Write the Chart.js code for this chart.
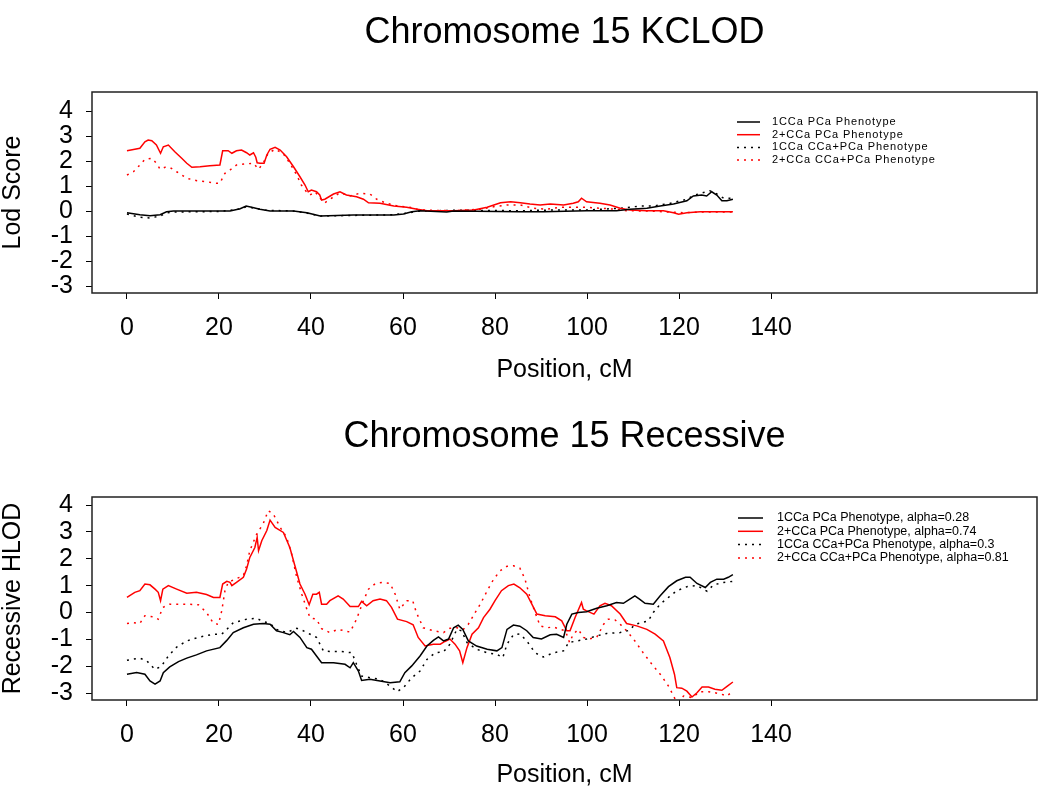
<!DOCTYPE html>
<html>
<head>
<meta charset="utf-8">
<title>Chromosome 15</title>
<script src="https://cdn.jsdelivr.net/npm/chart.js@4.4.1/dist/chart.umd.min.js"></script>
<style>
    html, body { margin: 0; padding: 0; background: #fff; }
    canvas { display: block; }
</style>
</head>
<body>
<canvas id="kclodChart" width="1050" height="400"></canvas>
<canvas id="recessiveChart" width="1050" height="397"></canvas>
<script>
/**
 * Data (positions in cM, scores)
 * ======================================================================== */
const xTicks = [0, 20, 40, 60, 80, 100, 120, 140];
const yTicks = [-3, -2, -1, 0, 1, 2, 3, 4];

// Chromosome 15 KCLOD
const kclodLabels = [
    '1CCa PCa Phenotype',
    '2+CCa PCa Phenotype',
    '1CCa CCa+PCa Phenotype',
    '2+CCa CCa+PCa Phenotype'
];

const kclod1Pos = [0, 2.8, 5, 7.2, 8.6, 10.1, 17.3, 22.4, 24.6, 25.9, 27.1, 28.9, 31.1, 36.2, 39.1, 42, 49.2, 58, 60.1, 61.9, 63.7, 69.5, 71, 85.4, 90.5, 99.9, 106.4, 109.3, 113, 115.9, 118.8, 121.7, 123.1, 124.9, 126, 127.1, 128.2, 129.3, 130.4, 131.7];
const kclod1Lod = [-0.07, -0.15, -0.19, -0.15, -0.03, 0, 0, 0, 0.09, 0.2, 0.15, 0.07, 0, 0, -0.07, -0.2, -0.16, -0.16, -0.12, -0.03, 0.01, -0.04, 0, -0.03, -0.03, 0.01, 0.01, 0.07, 0.11, 0.2, 0.28, 0.41, 0.6, 0.64, 0.6, 0.77, 0.64, 0.41, 0.41, 0.47];

const kclod2Pos = [0, 1.7, 2.8, 3.9, 4.6, 5.4, 6.4, 7.3, 7.9, 9, 10.4, 11.9, 13, 14.1, 15.9, 18, 20.2, 20.8, 22, 22.8, 23.8, 24.9, 26, 26.7, 27.5, 28, 28.3, 28.9, 29.8, 30.4, 31.1, 32.2, 33.3, 34.7, 36.2, 37.6, 38.7, 39.4, 40.1, 41.2, 41.9, 42.3, 43, 44.9, 46.3, 47.7, 49.9, 51.4, 52.5, 55, 58, 60.8, 63.1, 65.2, 71, 75.4, 78.3, 81.2, 83.4, 85.5, 87.6, 89.8, 92, 94.9, 97, 98.1, 98.8, 99.9, 102.8, 105, 107.2, 109.3, 113, 116.6, 118.8, 119.9, 121.7, 124.6, 131.7];
const kclod2Lod = [2.41, 2.47, 2.51, 2.77, 2.84, 2.81, 2.64, 2.31, 2.57, 2.64, 2.37, 2.11, 1.91, 1.75, 1.77, 1.81, 1.84, 2.41, 2.41, 2.31, 2.41, 2.44, 2.33, 2.24, 2.33, 2.15, 1.93, 1.91, 1.91, 2.24, 2.47, 2.55, 2.44, 2.17, 1.77, 1.37, 1.04, 0.77, 0.84, 0.77, 0.64, 0.44, 0.47, 0.68, 0.77, 0.64, 0.57, 0.47, 0.33, 0.31, 0.2, 0.15, 0.07, 0.01, 0.01, 0.04, 0.15, 0.33, 0.37, 0.33, 0.28, 0.24, 0.28, 0.24, 0.31, 0.37, 0.51, 0.37, 0.31, 0.24, 0.11, 0.04, 0.01, 0.01, -0.07, -0.13, -0.07, -0.03, -0.03];

const kclod3Pos = [0, 2.8, 5, 7.2, 8.6, 10.1, 20, 24.6, 25.9, 27.5, 30, 36, 39, 42, 58, 61, 63.7, 72, 85.4, 92.7, 99.9, 107.2, 111.6, 114.5, 118.1, 121.7, 123.4, 126.7, 128.2, 129.7, 131.7];
const kclod3Lod = [-0.12, -0.25, -0.28, -0.2, -0.08, -0.04, -0.02, 0.08, 0.17, 0.12, 0.03, 0, -0.08, -0.2, -0.15, -0.08, 0, 0.03, 0.01, 0.04, 0.04, 0.11, 0.2, 0.2, 0.31, 0.47, 0.64, 0.81, 0.68, 0.51, 0.51];

const kclod4Pos = [0, 1.4, 2.8, 3.9, 5.4, 6.4, 7.2, 8.3, 9.3, 10.8, 13, 15.2, 17.3, 19.5, 20.2, 21.3, 22.4, 23.8, 25.6, 27.5, 28.6, 29.6, 30.7, 32.2, 33.9, 35.4, 36.9, 37.9, 39, 39.8, 40.9, 42, 43, 44.1, 46.3, 48.5, 50.6, 52.8, 54.3, 56.4, 58.9, 61.5, 63.7, 71, 76.8, 79.7, 82.6, 85.5, 88.3, 91.2, 94.2, 97, 99.9, 102.8, 106.4, 108.6, 113, 118.8, 121, 125, 131.7];
const kclod4Lod = [1.44, 1.57, 1.84, 2.07, 2.11, 1.91, 1.67, 1.75, 1.75, 1.57, 1.31, 1.21, 1.17, 1.11, 1.11, 1.51, 1.64, 1.84, 1.88, 1.91, 1.67, 1.91, 2.31, 2.47, 2.31, 1.91, 1.44, 1.04, 0.77, 0.64, 0.77, 0.51, 0.33, 0.47, 0.73, 0.6, 0.71, 0.68, 0.47, 0.31, 0.2, 0.15, 0.04, 0.01, 0.07, 0.17, 0.24, 0.24, 0.11, 0.07, 0.15, 0.15, 0.15, 0.11, 0.07, 0.01, 0, -0.05, -0.07, -0.04, -0.04];

// Chromosome 15 Recessive
const recLabels = [
    '1CCa PCa Phenotype, alpha=0.28',
    '2+CCa PCa Phenotype, alpha=0.74',
    '1CCa CCa+PCa Phenotype, alpha=0.3',
    '2+CCa CCa+PCa Phenotype, alpha=0.81'
];

const rec1Pos = [0, 2.1, 3.9, 5, 6.1, 7.2, 7.9, 9.3, 11.2, 13, 15.1, 17.3, 20.2, 21.7, 23.1, 25.3, 27.5, 29.6, 31.1, 32.5, 34, 35.4, 36.2, 37.6, 39.1, 40.1, 41.2, 42.3, 44.9, 47.4, 48.5, 49.2, 50.3, 51, 52.8, 55, 57.2, 59.3, 60.4, 61.9, 63.7, 65.2, 66.6, 67.7, 68.8, 69.9, 71, 72, 73, 74.2, 76, 78.3, 80.4, 81.5, 82.6, 84, 85.4, 86.9, 88.3, 90.1, 92, 93.4, 94.9, 95.6, 96.7, 98.1, 99.9, 102.1, 104.3, 106.4, 107.9, 109.3, 110.4, 111.4, 112.6, 114.4, 115.9, 117.7, 119.5, 121.4, 122.4, 123.9, 125.7, 126.8, 128.2, 129.7, 130.7, 131.7];
const rec1Hlod = [-2.3, -2.24, -2.3, -2.55, -2.67, -2.55, -2.24, -2.03, -1.83, -1.7, -1.58, -1.43, -1.31, -1.04, -0.75, -0.57, -0.44, -0.41, -0.44, -0.68, -0.75, -0.83, -0.71, -0.93, -1.31, -1.37, -1.62, -1.87, -1.87, -1.93, -2.06, -1.87, -2.18, -2.53, -2.49, -2.55, -2.62, -2.58, -2.24, -1.99, -1.62, -1.25, -1.04, -0.91, -1.06, -0.99, -0.57, -0.47, -0.63, -1.06, -1.25, -1.37, -1.43, -1.31, -0.63, -0.47, -0.51, -0.68, -0.93, -0.99, -0.83, -0.81, -0.93, -0.44, -0.06, 0, 0.03, 0.16, 0.25, 0.37, 0.34, 0.5, 0.62, 0.5, 0.34, 0.31, 0.62, 0.96, 1.18, 1.31, 1.31, 1.08, 0.93, 1.12, 1.24, 1.24, 1.31, 1.41];

const rec2Pos = [0, 1.7, 2.8, 3.9, 5, 6.1, 6.8, 7.3, 7.8, 9, 10.8, 13, 15.1, 17.3, 18.8, 20.2, 20.8, 21.7, 22.4, 22.8, 23.8, 25.3, 26, 26.7, 27.8, 28.3, 28.6, 29.3, 30.4, 31.1, 32.2, 34, 35.4, 36.5, 37.6, 38.7, 39.6, 40.4, 41.2, 41.8, 42.3, 43.4, 44.1, 45.9, 47, 48.5, 50.3, 51, 52.1, 53.5, 55, 56.4, 57.5, 58.8, 60.8, 62.2, 63.3, 64.8, 66.6, 68.1, 69.1, 70.2, 71.3, 72.3, 73, 73.9, 75, 76.4, 77.5, 78.9, 80, 81.4, 82.9, 84.1, 85.4, 86.9, 88, 89.1, 90.9, 93.1, 94.5, 95.6, 96.3, 97.4, 98.8, 99.2, 99.9, 101.5, 102.8, 103.9, 105.3, 107.2, 108.6, 110.8, 113, 114.8, 116.6, 118, 119, 119.5, 120.6, 121.7, 122.8, 123.9, 125, 126.4, 127.8, 129.3, 130.5, 131.7];
const rec2Hlod = [0.56, 0.75, 0.81, 1.06, 1.03, 0.87, 0.75, 0.44, 0.87, 1, 0.87, 0.72, 0.75, 0.67, 0.56, 0.56, 1.06, 1.16, 1.12, 1, 1.12, 1.31, 1.62, 2.05, 2.42, 2.8, 2.3, 2.67, 3.05, 3.44, 3.17, 2.98, 2.42, 1.74, 1.06, 0.68, 0.29, 0.68, 0.68, 0.75, 0.31, 0.31, 0.44, 0.62, 0.5, 0.22, 0.22, 0.41, 0.25, 0.44, 0.5, 0.44, 0.19, -0.25, -0.34, -0.46, -0.93, -1.25, -1.18, -1.18, -1.08, -0.99, -1.18, -1.43, -1.87, -1.31, -0.81, -0.57, -0.19, 0.12, 0.44, 0.81, 1, 1.06, 0.92, 0.68, 0.31, -0.06, -0.12, -0.16, -0.31, -0.68, -0.68, -0.19, 0.37, 0.12, 0.06, -0.06, 0.25, 0.34, 0.25, -0.06, -0.41, -0.5, -0.63, -0.81, -1.06, -1.68, -2.3, -2.8, -2.82, -2.93, -3.15, -2.99, -2.78, -2.78, -2.86, -2.9, -2.74, -2.59];

const rec3Pos = [0, 2.8, 4.3, 6.1, 7.5, 9, 10.8, 13, 15.9, 18.8, 20.6, 21.7, 23.1, 26, 28.2, 29.6, 31.1, 32.5, 34.7, 36.9, 38.3, 39.8, 41.2, 42.7, 44.1, 46.3, 48.9, 49.9, 51, 52.8, 55, 57.2, 58.7, 60.1, 61.9, 63.7, 65.2, 67, 68.8, 70.2, 71.7, 72.7, 73.9, 76, 78.3, 80.4, 81.7, 82.6, 84, 85.4, 86.9, 88.7, 90.5, 92.7, 94.9, 96, 97.8, 99.9, 102.1, 104.3, 107.2, 109.3, 110.4, 111.9, 113.3, 114.4, 115.9, 117.7, 119.5, 121.7, 123.9, 126.1, 127.5, 129.7, 131.7];
const rec3Hlod = [-1.78, -1.7, -1.8, -2.12, -2, -1.62, -1.29, -1.06, -0.91, -0.81, -0.81, -0.63, -0.38, -0.25, -0.22, -0.34, -0.41, -0.63, -0.75, -0.59, -0.68, -0.81, -0.93, -1.43, -1.45, -1.45, -1.5, -1.93, -2.37, -2.43, -2.49, -2.74, -2.95, -2.8, -2.43, -2.18, -1.75, -1.5, -1.47, -1.18, -0.63, -0.68, -1.12, -1.37, -1.5, -1.56, -1.68, -1.18, -0.83, -0.8, -1.06, -1.5, -1.66, -1.5, -1.43, -1.12, -1.06, -0.99, -0.87, -0.78, -0.75, -0.66, -0.44, -0.38, -0.31, 0, 0.31, 0.56, 0.81, 0.96, 1, 0.79, 1.03, 1.12, 1.16];

const rec4Pos = [0, 1.4, 2.8, 3.9, 5.7, 6.8, 7.8, 9.3, 13, 15.5, 17.3, 18.8, 19.9, 20.6, 21.3, 22, 23.5, 25.3, 26, 26.7, 28.2, 29.6, 30.7, 31.8, 33.3, 34.7, 35.8, 36.9, 38, 39.1, 39.8, 41.2, 42.3, 44.1, 45.9, 48.5, 49.9, 51.4, 52.5, 54, 55.7, 57.2, 58.3, 59.3, 60.8, 62.1, 62.9, 64.4, 66.6, 68.8, 70.2, 71.7, 73.1, 74.2, 75.7, 76.8, 78.3, 79.7, 81.1, 82.6, 84, 85.4, 86.5, 87.6, 88.7, 89.8, 91.3, 92.7, 94.2, 95.3, 96.2, 97, 98.1, 99.2, 100.3, 102.1, 103.6, 104.6, 106.1, 107.2, 108.6, 110.4, 112.2, 114.1, 115.9, 117.7, 118.8, 119.5, 121, 122.8, 124.6, 126.4, 127.8, 129.3, 130.4, 131.7];
const rec4Hlod = [-0.41, -0.38, -0.41, -0.12, -0.16, -0.25, 0.19, 0.31, 0.31, 0.29, 0, -0.41, -0.44, 0.06, 0.81, 1.12, 1.24, 1.37, 1.74, 2.3, 2.92, 3.3, 3.79, 3.67, 3.17, 2.8, 2.17, 1.31, 0.68, 0.12, -0.2, -0.25, -0.6, -0.75, -0.63, -0.73, -0.25, 0.44, 0.87, 1.08, 1.12, 1.08, 0.68, 0.12, 0.44, 0.44, 0, -0.57, -0.68, -0.75, -0.59, -0.57, -0.63, -0.44, 0, 0.31, 0.81, 1.24, 1.55, 1.72, 1.74, 1.65, 1.25, 0.56, 0, -0.5, -0.57, -0.54, -0.63, -0.68, -1.12, -0.81, -0.63, -0.93, -0.99, -0.93, -0.44, -0.25, -0.28, -0.44, -0.68, -1.06, -1.5, -1.93, -2.3, -2.74, -3.11, -3.35, -3.11, -3.17, -2.95, -2.95, -2.99, -3.05, -3.11, -2.93];

/**
 * Helpers
 * ======================================================================== */
const FONT = '"Liberation Sans", Arial, sans-serif';

function toPoints(pos, vals) {
    return pos.map((p, i) => ({ x: p, y: vals[i] }));
}

function series(label, pos, vals, color, dotted) {
    return {
        label: label,
        data: toPoints(pos, vals),
        borderColor: color,
        borderWidth: 1.5,
        borderDash: dotted ? [2, 5] : [],
        pointRadius: 0,
        tension: 0,
        fill: false
    };
}

// Draws the full box round the plot and the legend inside it
const boxLegendPlugin = {
    id: 'boxLegend',
    afterDatasetsDraw(chart, args, opts) {
        const ctx = chart.ctx;
        const a = chart.chartArea;
        ctx.save();
        ctx.strokeStyle = '#222';
        ctx.lineWidth = 1.5;
        ctx.setLineDash([]);
        ctx.strokeRect(a.left, a.top, a.right - a.left, a.bottom - a.top);

        ctx.font = opts.fontSize + 'px ' + FONT;
        ctx.textBaseline = 'middle';
        ctx.textAlign = 'left';
        if ('letterSpacing' in ctx) ctx.letterSpacing = opts.letterSpacing + 'px';
        chart.data.datasets.forEach((ds, i) => {
            const y = opts.top + i * opts.rowHeight;
            ctx.strokeStyle = ds.borderColor;
            ctx.lineWidth = 1.5;
            ctx.setLineDash(ds.borderDash);
            ctx.beginPath();
            ctx.moveTo(opts.lineLeft, y);
            ctx.lineTo(opts.lineRight, y);
            ctx.stroke();
            ctx.fillStyle = '#000';
            ctx.fillText(ds.label, opts.textLeft, y);
        });
        ctx.restore();
    }
};

function makeChart(canvas, cfg) {
    return new Chart(canvas.getContext('2d'), {
        type: 'line',
        data: { datasets: cfg.datasets },
        options: {
            responsive: false,
            animation: false,
            layout: { padding: { left: 0, right: 13, top: 0, bottom: 0 } },
            plugins: {
                legend: { display: false },
                tooltip: { enabled: false },
                title: {
                    display: true,
                    text: cfg.title,
                    fullSize: false,
                    color: '#000',
                    font: { family: FONT, size: 36, weight: 'normal' },
                    padding: cfg.titlePadding
                },
                boxLegend: cfg.legend
            },
            scales: {
                x: {
                    type: 'linear',
                    min: -7.6,
                    max: 197.8,
                    afterBuildTicks: s => { s.ticks = xTicks.map(v => ({ value: v })); },
                    afterFit: s => { s.height = cfg.xAxisHeight; },
                    border: { display: false },
                    grid: { drawOnChartArea: false, drawTicks: true, tickLength: 6, color: '#000' },
                    ticks: {
                        color: '#000',
                        padding: 14,
                        maxRotation: 0,
                        autoSkip: false,
                        font: { family: FONT, size: 25 },
                        callback: v => String(v)
                    },
                    title: {
                        display: true,
                        text: 'Position, cM',
                        color: '#000',
                        font: { family: FONT, size: 25 },
                        padding: { top: 0, bottom: cfg.xTitleBottom }
                    }
                },
                y: {
                    type: 'linear',
                    min: cfg.yMin,
                    max: cfg.yMax,
                    afterBuildTicks: s => { s.ticks = yTicks.map(v => ({ value: v })); },
                    afterFit: s => { s.width = 92; },
                    border: { display: false },
                    grid: { drawOnChartArea: false, drawTicks: true, tickLength: 6, color: '#000' },
                    ticks: {
                        color: '#000',
                        padding: 13,
                        autoSkip: false,
                        font: { family: FONT, size: 25 },
                        callback: v => String(v)
                    },
                    title: {
                        display: true,
                        text: cfg.yTitle,
                        color: '#000',
                        font: { family: FONT, size: 25 },
                        padding: { top: -2, bottom: 0 }
                    }
                }
            }
        },
        plugins: [boxLegendPlugin]
    });
}

/**
 * Charts
 * ======================================================================== */
makeChart(document.getElementById('kclodChart'), {
    title: 'Chromosome 15 KCLOD',
    titlePadding: { top: 11, bottom: 37.8 },
    yTitle: 'Lod Score',
    yMin: -3.28,
    yMax: 4.76,
    xAxisHeight: 107,
    xTitleBottom: 15,
    legend: { top: 122, rowHeight: 12.7, lineLeft: 737, lineRight: 760, textLeft: 772, fontSize: 11, letterSpacing: 0.9 },
    datasets: [
        series(kclodLabels[0], kclod1Pos, kclod1Lod, '#000000', false),
        series(kclodLabels[1], kclod2Pos, kclod2Lod, '#ff0000', false),
        series(kclodLabels[2], kclod3Pos, kclod3Lod, '#000000', true),
        series(kclodLabels[3], kclod4Pos, kclod4Lod, '#ff0000', true)
    ]
});

makeChart(document.getElementById('recessiveChart'), {
    title: 'Chromosome 15 Recessive',
    titlePadding: { top: 15.4, bottom: 38.4 },
    yTitle: 'Recessive HLOD',
    yMin: -3.26,
    yMax: 4.3,
    xAxisHeight: 97,
    xTitleBottom: 7,
    legend: { top: 118, rowHeight: 13.3, lineLeft: 738, lineRight: 763, textLeft: 777, fontSize: 12.5, letterSpacing: 0 },
    datasets: [
        series(recLabels[0], rec1Pos, rec1Hlod, '#000000', false),
        series(recLabels[1], rec2Pos, rec2Hlod, '#ff0000', false),
        series(recLabels[2], rec3Pos, rec3Hlod, '#000000', true),
        series(recLabels[3], rec4Pos, rec4Hlod, '#ff0000', true)
    ]
});
</script>
</body>
</html>
